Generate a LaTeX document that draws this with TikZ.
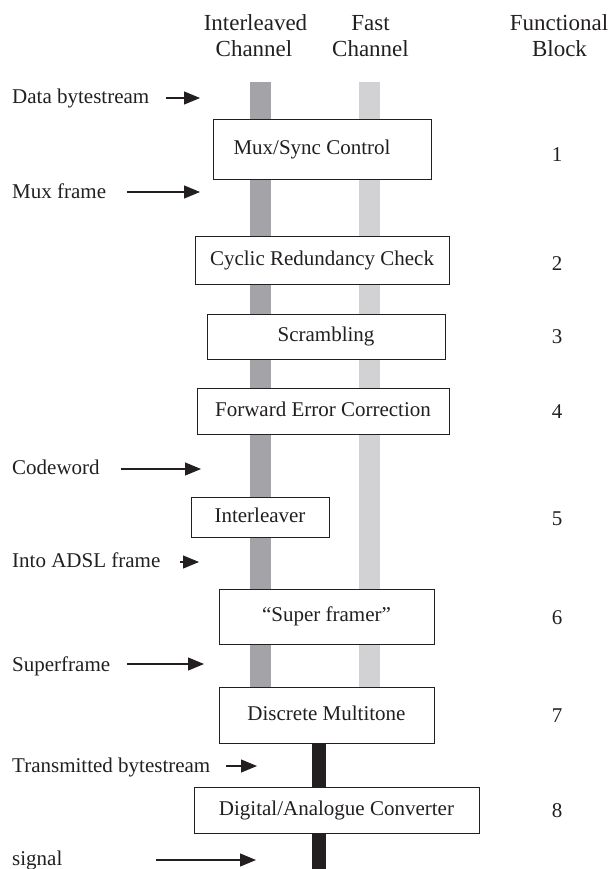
\documentclass[tikz,border=0pt]{standalone}
\usepackage{fontspec}
\setmainfont{Liberation Serif}
\usetikzlibrary{arrows.meta,backgrounds}
\definecolor{ilvc}{HTML}{A4A4A8}
\definecolor{fstc}{HTML}{D2D2D4}
\definecolor{ink}{HTML}{231F20}
\begin{document}
\begin{tikzpicture}[x=1pt,y=-1pt,
  blk/.style={draw=ink, line width=0.9pt, fill=white, inner sep=0pt, text=ink,
    font=\fontsize{21}{25}\selectfont, text height=14.7pt, text depth=4.6pt},
  lbl/.style={anchor=base west, inner sep=0pt, text=ink, font=\fontsize{21}{25}\selectfont},
  hdr/.style={anchor=base, inner sep=0pt, text=ink, font=\fontsize{23}{26}\selectfont},
  num/.style={anchor=base, inner sep=0pt, text=ink, font=\fontsize{21}{25}\selectfont},
  arr/.style={draw=ink, line width=1.1pt, -{Triangle[length=16pt,width=13pt]}},
]
\useasboundingbox (0,0) rectangle (612,869);

% headers
\node[hdr] (h1a) at (255.5,31) {Interleaved};
\node[hdr] (h1b) at (254,57) {Channel};
\node[hdr] (h2a) at (370.5,31) {Fast};
\node[hdr] (h2b) at (370.5,57) {Channel};
\node[hdr] (h3a) at (559,31) {Functional};
\node[hdr] (h3b) at (559.5,57) {Block};

% blocks
\node[blk, minimum width=218pt, minimum height=60pt] (mux) at (322,149) {\hspace*{-20pt}Mux/Sync Control};
\node[blk, minimum width=254pt, minimum height=48pt] (crc) at (322,260) {Cyclic Redundancy Check};
\node[blk, minimum width=238pt, minimum height=45pt] (scr) at (326,336.5) {Scrambling};
\node[blk, minimum width=252pt, minimum height=46pt] (fec) at (323,411) {Forward Error Correction};
\node[blk, minimum width=138pt, minimum height=40pt] (ilv) at (260,517) {Interleaver};
\node[blk, minimum width=215pt, minimum height=55pt] (sup) at (326.5,616.5) {``Super framer''};
\node[blk, minimum width=215pt, minimum height=56pt] (dmt) at (326.5,715) {Discrete Multitone};
\node[blk, minimum width=285pt, minimum height=46pt] (dac) at (336.5,810) {Digital/Analogue Converter};

% functional block numbers
\node[num] (n1) at (557,162) {1};
\node[num] (n2) at (557,270) {2};
\node[num] (n3) at (557,343.5) {3};
\node[num] (n4) at (557,418) {4};
\node[num] (n5) at (557,525) {5};
\node[num] (n6) at (557,624) {6};
\node[num] (n7) at (557,722) {7};
\node[num] (n8) at (557,817) {8};

% channel bars
\coordinate (itop) at (260.5,82);
\coordinate (ftop) at (369.5,82);
\coordinate (btop) at (319,0);
\coordinate (bend) at (319,869);
\begin{scope}[on background layer]
  \draw[ilvc, line width=21pt] (itop) -- (itop |- dmt.north);
  \draw[fstc, line width=21pt] (ftop) -- (ftop |- dmt.north);
  \draw[ink, line width=14pt] (btop |- dmt.south) -- (btop |- dac.north);
  \draw[ink, line width=14pt] (btop |- dac.south) -- (bend);
\end{scope}

% side labels and arrows
\node[lbl] (l1) at (12,104) {Data bytestream};
\coordinate (a1s) at (166,98); \coordinate (a1e) at (200,98);
\draw[arr] (a1s) -- (a1e);

\node[lbl] (l2) at (12,198) {Mux frame};
\coordinate (a2s) at (127,192); \coordinate (a2e) at (200,192);
\draw[arr] (a2s) -- (a2e);

\node[lbl] (l3) at (12,474) {Codeword};
\coordinate (a3s) at (121,469); \coordinate (a3e) at (201,469);
\draw[arr] (a3s) -- (a3e);

\node[lbl] (l4) at (12,567) {Into ADSL frame};
\coordinate (a4s) at (180,562); \coordinate (a4e) at (199,562);
\draw[arr] (a4s) -- (a4e);

\node[lbl] (l5) at (12,671) {Superframe};
\coordinate (a5s) at (127,664); \coordinate (a5e) at (204,664);
\draw[arr] (a5s) -- (a5e);

\node[lbl] (l6) at (12,772) {Transmitted bytestream};
\coordinate (a6s) at (226,766); \coordinate (a6e) at (257,766);
\draw[arr] (a6s) -- (a6e);

\node[lbl] (l7) at (12,865) {signal};
\coordinate (a7s) at (156,860); \coordinate (a7e) at (256,860);
\draw[arr] (a7s) -- (a7e);
\end{tikzpicture}
\end{document}
